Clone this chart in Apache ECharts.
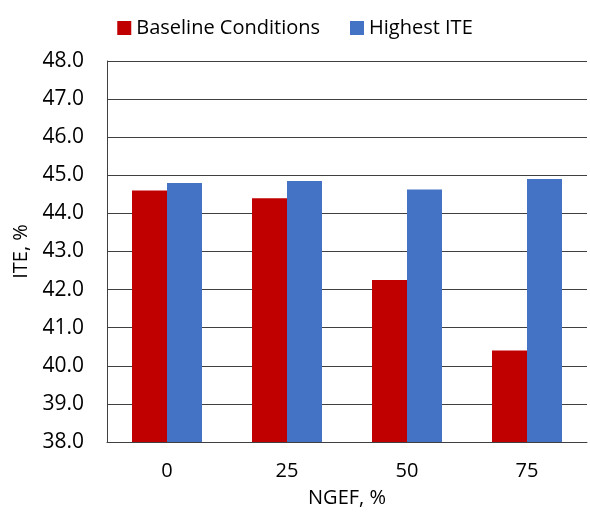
<!DOCTYPE html>
<html>
<head>
<meta charset="utf-8">
<script src="https://cdn.jsdelivr.net/npm/echarts@6/dist/echarts.min.js"></script>
<style>
  html, body { margin: 0; padding: 0; background: #fff; }
  #chart { width: 590px; height: 512px; }
</style>
</head>
<body>
<div id="chart"></div>
<script>
const categories = ['0', '25', '50', '75'];
const baseline = [44.6, 44.4, 42.25, 40.4];
const highest = [44.8, 44.85, 44.63, 44.9];

const font = 'Open Sans, Liberation Sans, sans-serif';
const chart = echarts.init(document.getElementById('chart'));

chart.setOption({
  animation: false,
  textStyle: { fontFamily: font },
  legend: {
    top: 13,
    left: 'center',
    itemWidth: 14,
    itemHeight: 14,
    itemGap: 30,
    icon: 'rect',
    textStyle: { fontSize: 20, color: '#000', fontFamily: font },
    data: ['Baseline Conditions', 'Highest ITE']
  },
  grid: { left: 107, right: 3, top: 61, bottom: 70, outerBoundsMode: 'none' },
  xAxis: {
    type: 'category',
    data: categories,
    name: 'NGEF, %',
    nameLocation: 'middle',
    nameGap: 46,
    nameTextStyle: { fontSize: 20, color: '#000' },
    axisLine: { lineStyle: { color: '#404040', width: 1 } },
    axisTick: { show: false },
    axisLabel: { fontSize: 20, color: '#000', margin: 19 }
  },
  yAxis: {
    type: 'value',
    min: 38,
    max: 48,
    interval: 1,
    name: 'ITE, %',
    nameLocation: 'middle',
    nameGap: 66,
    nameTextStyle: { fontSize: 20, color: '#000' },
    axisLine: { show: true, lineStyle: { color: '#404040', width: 1 } },
    axisTick: { show: false },
    axisLabel: { fontSize: 21, color: '#000', margin: 23, formatter: v => v.toFixed(1) },
    splitLine: { lineStyle: { color: '#404040', width: 1 } }
  },
  series: [
    {
      name: 'Baseline Conditions',
      type: 'bar',
      data: baseline,
      barWidth: 35,
      barGap: '0%',
      itemStyle: { color: '#C00000' }
    },
    {
      name: 'Highest ITE',
      type: 'bar',
      data: highest,
      barWidth: 35,
      barGap: '0%',
      itemStyle: { color: '#4472C4' }
    }
  ]
});
</script>
</body>
</html>
